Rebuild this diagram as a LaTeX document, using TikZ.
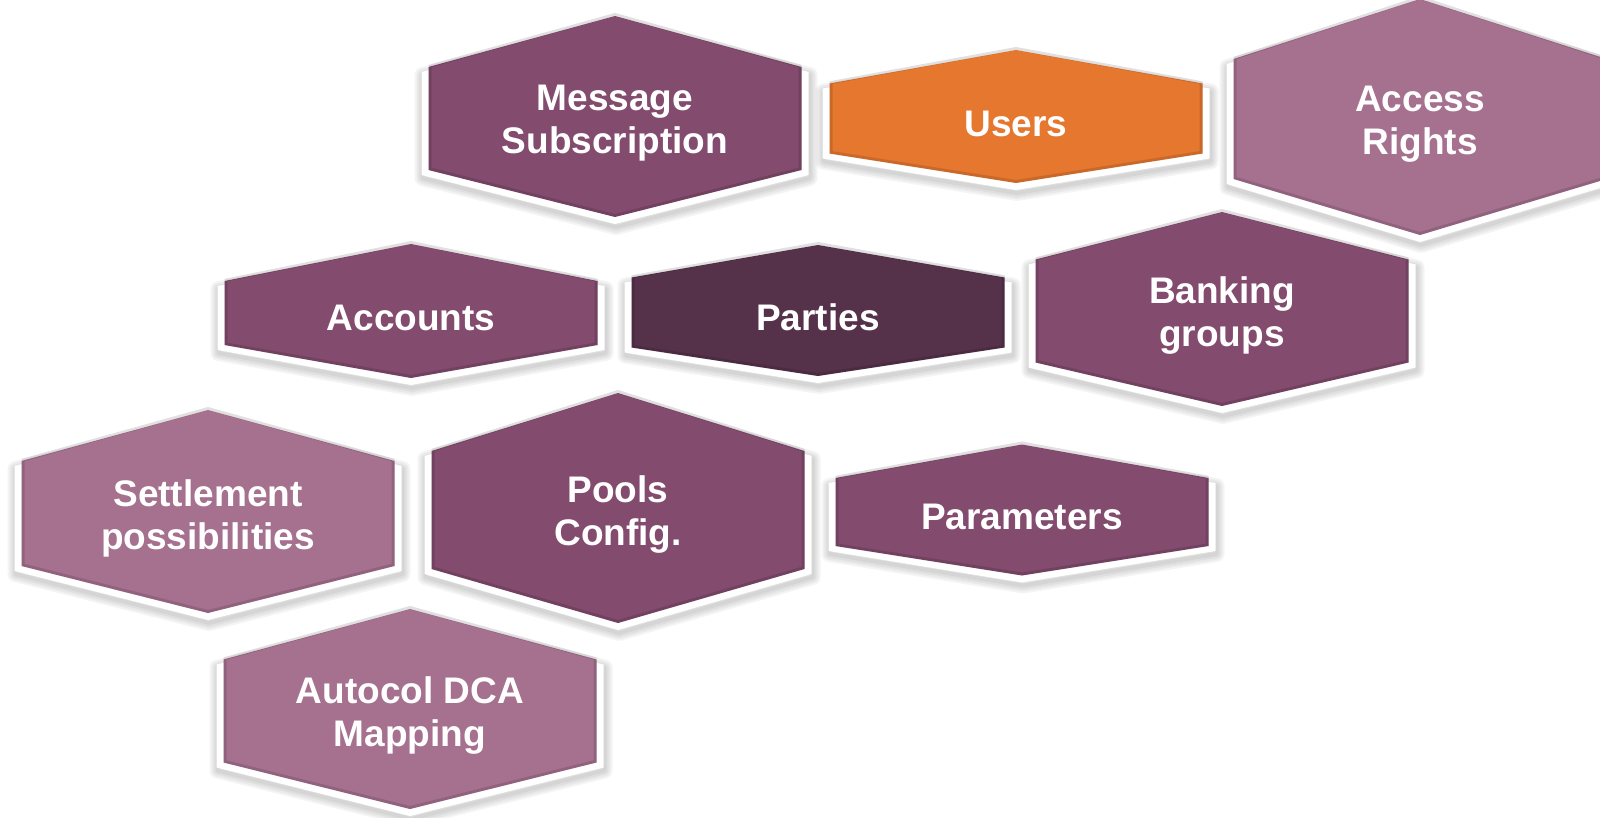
\documentclass[tikz,border=0pt]{standalone}
\usepackage{fontspec}
\setmainfont{Liberation Sans}
\usepackage{xcolor}
\usepackage{tikz}

\definecolor{plum}{HTML}{834B6E}
\definecolor{lightplum}{HTML}{A6708F}
\definecolor{darkplum}{HTML}{56324A}
\definecolor{userorange}{HTML}{E5772F}

\tikzset{
	hexcell/.style n args={3}{insert path={(\cx,{\cy-#3}) -- ({\cx+#1},{\cy-#2}) -- ({\cx+#1},{\cy+#2}) -- (\cx,{\cy+#3}) -- ({\cx-#1},{\cy+#2}) -- ({\cx-#1},{\cy-#2}) -- cycle}},
	cellshadow/.style={black,opacity=.045,line join=round,shift={(1,3)}},
	celltext/.style={text=white,font=\bfseries\fontsize{37}{43}\selectfont,align=center,inner sep=0pt}
}

% name, centre x, centre y, half side, half tip height, colour, text
\newcommand{\hexnode}[7]{
	\def\cx{#2}\def\cy{#3}
	\draw[cellshadow,line width=4,hexcell={193.5}{#4}{#5}];
	\draw[cellshadow,line width=8,hexcell={193.5}{#4}{#5}];
	\draw[cellshadow,line width=12,hexcell={193.5}{#4}{#5}];
	\draw[cellshadow,line width=16,hexcell={193.5}{#4}{#5}];
	\fill[white,hexcell={193.5}{#4}{#5}];
	\fill[#6,hexcell={186.5}{#4-5}{#5-7}];
	\draw[black,opacity=.12,line width=3,hexcell={185}{#4-6}{#5-8.5}];
	\node[celltext] (#1) at (\cx,\cy) {#7};
}

\begin{document}
\begin{tikzpicture}[x=1pt,y=-1pt]
	\useasboundingbox (0,0) rectangle (1600,818);
	\clip (0,0) rectangle (1600,818);
	
	\hexnode{msgsub}{615}{123.5}{51.5}{100.5}{plum}{Message\\Subscription}
	\hexnode{users}{1016}{123.5}{35}{66.5}{userorange}{Users}
	\hexnode{access}{1420}{124}{60}{118}{lightplum}{Access\\Rights}
	
	\hexnode{accounts}{411}{318}{32}{67}{plum}{Accounts}
	\hexnode{parties}{818}{317.5}{35}{65.5}{darkplum}{Parties}
	\hexnode{banking}{1222}{316}{51.5}{97}{plum}{Banking\\groups}
	
	\hexnode{settle}{208}{518.5}{52.5}{101.5}{lightplum}{Settlement\\possibilities}
	\hexnode{pools}{618}{515}{59}{115}{plum}{Pools\\Config.}
	\hexnode{params}{1022}{517}{34}{65.5}{plum}{Parameters}
	
	\hexnode{autocol}{410}{716}{51.5}{100}{lightplum}{Autocol DCA\\Mapping}
\end{tikzpicture}
\end{document}
